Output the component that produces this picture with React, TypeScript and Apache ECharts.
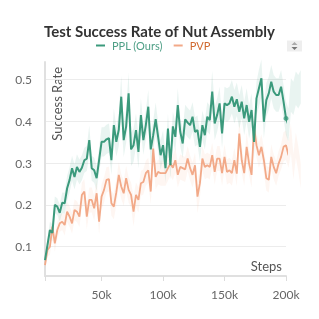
import React, { useEffect, useRef } from "react";
import * as echarts from "echarts";

// steps in thousands
const steps = [
  4, 6, 8, 10, 12, 14, 16, 18, 20, 22,
  24, 26, 28, 30, 32, 34, 36, 38, 40, 42,
  44, 46, 48, 50, 52, 54, 56, 58, 60, 62,
  64, 66, 68, 70, 72, 74, 76, 78, 80, 82,
  84, 86, 88, 90, 92, 94, 96, 98, 100, 102,
  104, 106, 108, 110, 112, 114, 116, 118, 120, 122,
  124, 126, 128, 130, 132, 134, 136, 138, 140, 142,
  144, 146, 148, 150, 152, 154, 156, 158, 160, 162,
  164, 166, 168, 170, 172, 174, 176, 178, 180, 182,
  184, 186, 188, 190, 192, 194, 196, 198, 200, 202,
  204, 206, 208, 210, 212,
];

const ppl = [
  0.068, 0.104, 0.14, 0.133, 0.2, 0.196, 0.181, 0.205, 0.204, 0.24,
  0.26, 0.288, 0.267, 0.291, 0.279, 0.289, 0.307, 0.311, 0.355, 0.288,
  0.283, 0.264, 0.307, 0.351, 0.351, 0.357, 0.36, 0.307, 0.391, 0.351,
  0.38, 0.459, 0.355, 0.388, 0.467, 0.333, 0.343, 0.379, 0.327, 0.415,
  0.355, 0.391, 0.435, 0.333, 0.367, 0.405, 0.363, 0.319, 0.343, 0.288,
  0.383, 0.295, 0.388, 0.363, 0.439, 0.375, 0.347, 0.405, 0.397, 0.391,
  0.411, 0.375, 0.379, 0.339, 0.391, 0.367, 0.411, 0.403, 0.471, 0.395,
  0.415, 0.443, 0.371, 0.443, 0.439, 0.443, 0.459, 0.435, 0.453, 0.423,
  0.447, 0.407, 0.439, 0.399, 0.427, 0.351, 0.455, 0.479, 0.503, 0.399,
  0.451, 0.467, 0.495, 0.471, 0.463, 0.463, 0.483, 0.447, 0.407, 0.391,
  0.463, 0.455, 0.479, 0.471, 0.483,
];

const pvp = [
  0.056, 0.092, 0.1, 0.148, 0.108, 0.14, 0.156, 0.16, 0.152, 0.184,
  0.172, 0.156, 0.188, 0.184, 0.172, 0.224, 0.232, 0.172, 0.212, 0.212,
  0.192, 0.228, 0.16, 0.22, 0.236, 0.26, 0.262, 0.204, 0.196, 0.23,
  0.272, 0.244, 0.228, 0.264, 0.236, 0.224, 0.184, 0.224, 0.212, 0.252,
  0.255, 0.276, 0.283, 0.232, 0.335, 0.267, 0.279, 0.276, 0.276, 0.276,
  0.288, 0.299, 0.289, 0.307, 0.272, 0.291, 0.288, 0.285, 0.311, 0.288,
  0.272, 0.295, 0.22, 0.252, 0.311, 0.291, 0.295, 0.291, 0.319, 0.279,
  0.311, 0.311, 0.276, 0.315, 0.279, 0.283, 0.276, 0.307, 0.275, 0.371,
  0.307, 0.276, 0.339, 0.299, 0.272, 0.387, 0.343, 0.319, 0.339, 0.307,
  0.264, 0.26, 0.315, 0.291, 0.276, 0.299, 0.315, 0.339, 0.343, 0.319,
  0.359, 0.291, 0.343, 0.31, 0.27,
];

const pplSpread = [
  0.01, 0.015, 0.02, 0.02, 0.02, 0.02, 0.02, 0.025, 0.025, 0.03,
  0.03, 0.03, 0.03, 0.03, 0.03, 0.03, 0.03, 0.03, 0.035, 0.03,
  0.03, 0.03, 0.03, 0.035, 0.035, 0.035, 0.035, 0.035, 0.04, 0.035,
  0.04, 0.05, 0.04, 0.04, 0.05, 0.04, 0.04, 0.04, 0.04, 0.04,
  0.035, 0.035, 0.04, 0.035, 0.035, 0.04, 0.035, 0.035, 0.035, 0.035,
  0.035, 0.035, 0.035, 0.035, 0.04, 0.035, 0.035, 0.035, 0.035, 0.035,
  0.035, 0.035, 0.035, 0.035, 0.035, 0.035, 0.035, 0.035, 0.05, 0.04,
  0.04, 0.04, 0.035, 0.04, 0.04, 0.04, 0.04, 0.04, 0.04, 0.04,
  0.04, 0.04, 0.04, 0.04, 0.04, 0.04, 0.04, 0.045, 0.045, 0.04,
  0.04, 0.04, 0.04, 0.04, 0.04, 0.04, 0.04, 0.04, 0.04, 0.04,
  0.04, 0.04, 0.04, 0.04, 0.04,
];

const pvpSpread = [
  0.01, 0.015, 0.02, 0.02, 0.02, 0.02, 0.02, 0.02, 0.025, 0.025,
  0.025, 0.025, 0.025, 0.025, 0.025, 0.03, 0.03, 0.03, 0.03, 0.03,
  0.03, 0.03, 0.03, 0.03, 0.03, 0.03, 0.03, 0.03, 0.03, 0.03,
  0.03, 0.03, 0.03, 0.03, 0.03, 0.03, 0.035, 0.03, 0.03, 0.03,
  0.03, 0.03, 0.03, 0.03, 0.035, 0.03, 0.03, 0.03, 0.03, 0.03,
  0.03, 0.03, 0.03, 0.03, 0.03, 0.03, 0.03, 0.03, 0.03, 0.03,
  0.03, 0.03, 0.04, 0.035, 0.03, 0.03, 0.03, 0.03, 0.03, 0.03,
  0.03, 0.03, 0.03, 0.03, 0.03, 0.03, 0.03, 0.03, 0.03, 0.035,
  0.03, 0.03, 0.035, 0.03, 0.03, 0.035, 0.03, 0.03, 0.03, 0.03,
  0.03, 0.03, 0.03, 0.03, 0.03, 0.03, 0.03, 0.035, 0.035, 0.03,
  0.035, 0.03, 0.03, 0.03, 0.03,
];

const xTickLabels = ["50k", "100k", "150k", "200k"];
const seriesNames = ["PPL (Ours)", "PVP"];
const TITLE = "Test Success Rate of Nut Assembly";

const GREEN = "#3b9a7c";
const ORANGE = "#f2a988";
const FONT = "Lato";
const FADE_FROM = 100; // index of step 204k

export default function App() {
  const ref = useRef<HTMLDivElement>(null);
  useEffect(() => {
    if (!ref.current) return;
    const chart = echarts.init(ref.current, null, { renderer: "svg" });
    const pairs = (vals: number[]) => steps.map((s, i) => [s, vals[i]]);
    const pplPairs = pairs(ppl);
    const pvpPairs = pairs(pvp);
    const dotIdx = steps.indexOf(200);

    const bandSeries = (name: string, vals: number[], sp: number[], fill: string) => ({
      name: name + "-band",
      type: "custom",
      data: steps.map((s, i) => [s, vals[i] - sp[i], vals[i] + sp[i]]),
      clip: false,
      silent: true,
      z: 1,
      renderItem: (params: any, api: any) => {
        if (params.dataIndex !== 0) return null;
        const pts: number[][] = [];
        for (let i = 0; i < steps.length; i++) pts.push(api.coord([steps[i], vals[i] + sp[i]]));
        for (let i = steps.length - 1; i >= 0; i--) pts.push(api.coord([steps[i], vals[i] - sp[i]]));
        return { type: "polygon", shape: { points: pts }, style: { fill } };
      },
    });

    chart.setOption({
      animation: false,
      title: {
        text: TITLE,
        left: "center",
        top: 18,
        textStyle: { fontFamily: FONT, fontSize: 15, fontWeight: "bold", color: "#333" },
      },
      legend: {
        left: 96,
        top: 40,
        padding: 0,
        itemWidth: 9,
        itemHeight: 2,
        itemGap: 11,
        textStyle: { fontFamily: FONT, fontSize: 11, padding: [0, 0, 0, 2] },
        data: [
          { name: seriesNames[0], icon: "rect", textStyle: { color: "#4e9f86" } },
          { name: seriesNames[1], icon: "rect", textStyle: { color: "#d0682f" } },
        ],
      },
      grid: { left: 45, right: 33, top: 62, bottom: 43, outerBoundsMode: "none" },
      xAxis: {
        type: "value",
        min: 4,
        max: 200,
        splitNumber: 4,
        axisLine: { show: true, lineStyle: { color: "#e0e0e0", width: 2 } },
        axisTick: { show: true, length: 5, lineStyle: { color: "#dcdcdc" } },
        splitLine: { show: false },
        axisLabel: {
          margin: 12,
          color: "#666",
          fontFamily: FONT,
          fontSize: 12,
          formatter: (v: number) => {
            const lbl = v + "k";
            return xTickLabels.includes(lbl) ? lbl : "";
          },
        },
      },
      yAxis: {
        type: "value",
        min: 0.03,
        max: 0.542,
        splitNumber: 5,
        axisLine: { show: true, lineStyle: { color: "#e0e0e0", width: 2 } },
        axisTick: { show: false },
        splitLine: { show: true, showMinLine: false, showMaxLine: false, lineStyle: { color: "#ececec" } },
        axisLabel: {
          margin: 13,
          color: "#666",
          fontFamily: FONT,
          fontSize: 12,
          formatter: (v: number) =>
            Math.abs(v * 10 - Math.round(v * 10)) < 1e-6 ? v.toFixed(1) : "",
        },
      },
      graphic: [
        {
          type: "text",
          x: 57,
          y: 67,
          rotation: Math.PI / 2,
          style: {
            text: "Success Rate",
            fontFamily: FONT,
            fontSize: 13,
            fill: "#555",
            align: "right",
            verticalAlign: "middle",
          },
        },
        {
          type: "text",
          x: 282,
          y: 266,
          style: {
            text: "Steps",
            fontFamily: FONT,
            fontSize: 13,
            fill: "#555",
            align: "right",
            verticalAlign: "middle",
          },
        },
        {
          type: "rect",
          shape: { x: 287, y: 40.5, width: 15, height: 11 },
          style: { fill: "#eeeeee" },
        },
        {
          type: "polygon",
          shape: { points: [[291.5, 45], [294.5, 42], [297.5, 45]] },
          style: { fill: "#aaaaaa" },
        },
        {
          type: "polygon",
          shape: { points: [[291.5, 47], [294.5, 50], [297.5, 47]] },
          style: { fill: "#777777" },
        },
      ],
      series: [
        bandSeries("pvp", pvp, pvpSpread, "rgba(242,169,136,0.11)"),
        bandSeries("ppl", ppl, pplSpread, "rgba(59,154,124,0.11)"),
        {
          name: seriesNames[1],
          type: "line",
          data: pvpPairs.slice(0, FADE_FROM + 1),
          showSymbol: false,
          color: ORANGE,
          lineStyle: { color: ORANGE, width: 1.8 },
          clip: false,
          z: 3,
        },
        {
          name: "pvp-fade",
          type: "line",
          data: pvpPairs.slice(FADE_FROM),
          showSymbol: false,
          lineStyle: { color: ORANGE, width: 1.8, opacity: 0.45 },
          clip: false,
          z: 3,
        },
        {
          name: seriesNames[0],
          type: "line",
          data: pplPairs.slice(0, FADE_FROM + 1),
          showSymbol: false,
          color: GREEN,
          lineStyle: { color: GREEN, width: 2 },
          clip: false,
          z: 4,
        },
        {
          name: "ppl-fade",
          type: "line",
          data: pplPairs.slice(FADE_FROM),
          showSymbol: false,
          lineStyle: { color: GREEN, width: 2, opacity: 0.45 },
          clip: false,
          z: 4,
        },
        {
          name: "ppl-dot",
          type: "scatter",
          data: [pplPairs[dotIdx]],
          symbolSize: 5,
          itemStyle: { color: GREEN },
          z: 5,
        },
      ],
    });
    return () => chart.dispose();
  }, []);
  return (
    <div
      ref={ref}
      style={{ position: "fixed", left: 0, top: 0, width: 319, height: 319 }}
    />
  );
}
